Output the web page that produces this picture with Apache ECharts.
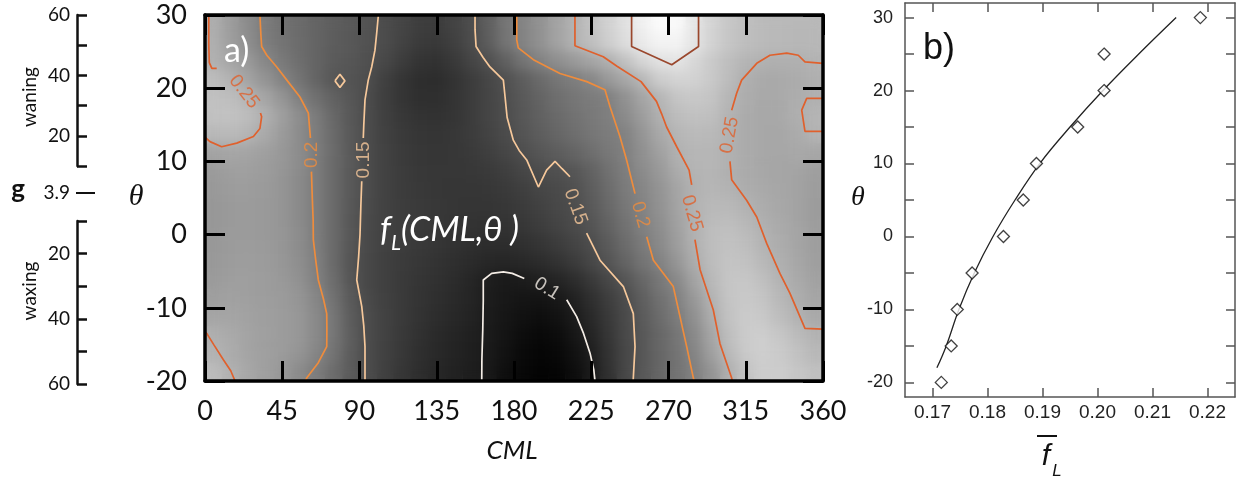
<!DOCTYPE html>
<html>
<head>
<meta charset="utf-8">
<title>f_L(CML, theta)</title>
<script src="https://cdn.jsdelivr.net/npm/echarts@6.0.0/dist/echarts.min.js"></script>
<style>
html, body { margin: 0; padding: 0; background: #fff; }
#wrap { position: relative; width: 1242px; height: 480px; }
.layer { position: absolute; left: 0; top: 0; width: 1242px; height: 480px; }
#soft { position: absolute; left: 205px; top: 15px; width: 618px; height: 366px; overflow: hidden; }
#softInner { position: absolute; left: -205px; top: -15px; width: 1242px; height: 480px; filter: blur(6px); }
</style>
</head>
<body>
<div id="wrap">
  <div id="base" class="layer"></div>
  <div id="soft"><div id="softInner"></div></div>
  <div id="main" class="layer"></div>
</div>
<script>
// ---- panel a) : field f_L on a 10 deg x 2.5 deg grid (rows bottom -> top) ----
var cmlCenters = [5, 15, 25, 35, 45, 55, 65, 75, 85, 95, 105, 115, 125, 135, 145, 155, 165, 175,
  185, 195, 205, 215, 225, 235, 245, 255, 265, 275, 285, 295, 305, 315, 325, 335, 345, 355];
var thetaCenters = [-18.75, -16.25, -13.75, -11.25, -8.75, -6.25, -3.75, -1.25, 1.25, 3.75,
  6.25, 8.75, 11.25, 13.75, 16.25, 18.75, 21.25, 23.75, 26.25, 28.75];
var fieldRows = [
  [0.262,0.25,0.24,0.232,0.225,0.212,0.197,0.18,0.163,0.148,0.135,0.125,0.117,0.11,0.105,0.101,0.095,0.085,0.078,0.074,0.075,0.083,0.098,0.12,0.142,0.16,0.174,0.187,0.201,0.22,0.248,0.268,0.278,0.278,0.272,0.266],
  [0.252,0.245,0.237,0.232,0.228,0.221,0.206,0.187,0.164,0.148,0.136,0.127,0.118,0.112,0.107,0.102,0.097,0.088,0.08,0.076,0.078,0.087,0.101,0.122,0.142,0.159,0.174,0.188,0.205,0.232,0.258,0.275,0.28,0.276,0.268,0.258],
  [0.248,0.243,0.236,0.232,0.229,0.224,0.21,0.19,0.166,0.148,0.137,0.128,0.12,0.113,0.108,0.103,0.098,0.09,0.083,0.079,0.082,0.092,0.107,0.125,0.144,0.16,0.175,0.19,0.21,0.238,0.264,0.277,0.279,0.272,0.262,0.252],
  [0.238,0.238,0.234,0.231,0.229,0.224,0.21,0.19,0.165,0.147,0.137,0.129,0.122,0.116,0.111,0.106,0.099,0.092,0.087,0.084,0.088,0.098,0.112,0.128,0.145,0.163,0.18,0.196,0.217,0.245,0.268,0.277,0.274,0.263,0.252,0.242],
  [0.232,0.234,0.232,0.23,0.228,0.222,0.207,0.186,0.162,0.145,0.136,0.129,0.123,0.118,0.113,0.108,0.1,0.094,0.091,0.09,0.094,0.104,0.118,0.133,0.148,0.167,0.185,0.201,0.225,0.251,0.27,0.275,0.27,0.258,0.247,0.238],
  [0.228,0.231,0.231,0.229,0.226,0.218,0.202,0.181,0.158,0.143,0.135,0.129,0.124,0.12,0.115,0.109,0.101,0.097,0.099,0.102,0.107,0.115,0.128,0.142,0.157,0.175,0.192,0.209,0.236,0.258,0.271,0.273,0.265,0.253,0.243,0.235],
  [0.226,0.229,0.23,0.228,0.224,0.215,0.2,0.178,0.157,0.143,0.135,0.13,0.126,0.122,0.118,0.114,0.11,0.109,0.111,0.115,0.121,0.13,0.142,0.156,0.172,0.188,0.202,0.222,0.245,0.262,0.27,0.268,0.258,0.248,0.24,0.232],
  [0.225,0.228,0.229,0.227,0.223,0.213,0.198,0.178,0.158,0.144,0.136,0.131,0.128,0.125,0.121,0.118,0.116,0.116,0.119,0.124,0.131,0.139,0.149,0.163,0.18,0.195,0.21,0.23,0.249,0.263,0.268,0.264,0.253,0.245,0.238,0.231],
  [0.224,0.227,0.228,0.226,0.222,0.212,0.197,0.178,0.159,0.145,0.137,0.132,0.129,0.127,0.124,0.122,0.121,0.122,0.126,0.132,0.139,0.146,0.156,0.17,0.186,0.2,0.214,0.233,0.25,0.262,0.265,0.259,0.249,0.243,0.237,0.23],
  [0.224,0.227,0.228,0.226,0.222,0.211,0.196,0.178,0.16,0.146,0.137,0.132,0.129,0.127,0.125,0.124,0.124,0.126,0.13,0.136,0.143,0.149,0.161,0.176,0.191,0.204,0.218,0.236,0.251,0.259,0.259,0.252,0.245,0.24,0.236,0.229],
  [0.226,0.229,0.229,0.227,0.222,0.211,0.196,0.178,0.161,0.147,0.137,0.131,0.128,0.126,0.125,0.125,0.126,0.129,0.134,0.141,0.145,0.152,0.165,0.18,0.195,0.207,0.22,0.237,0.251,0.256,0.253,0.246,0.242,0.239,0.236,0.23],
  [0.228,0.232,0.232,0.229,0.223,0.212,0.196,0.178,0.161,0.147,0.137,0.131,0.127,0.126,0.126,0.127,0.129,0.134,0.141,0.149,0.152,0.158,0.17,0.185,0.198,0.212,0.226,0.244,0.254,0.255,0.249,0.244,0.24,0.238,0.237,0.232],
  [0.236,0.239,0.237,0.232,0.225,0.213,0.197,0.179,0.161,0.147,0.137,0.13,0.126,0.125,0.126,0.129,0.134,0.141,0.15,0.158,0.165,0.172,0.182,0.192,0.2,0.217,0.233,0.249,0.256,0.256,0.25,0.244,0.24,0.239,0.241,0.24],
  [0.258,0.26,0.254,0.242,0.228,0.213,0.196,0.178,0.161,0.147,0.136,0.129,0.125,0.124,0.126,0.131,0.138,0.146,0.156,0.165,0.174,0.182,0.19,0.196,0.203,0.222,0.241,0.255,0.26,0.259,0.251,0.244,0.24,0.239,0.244,0.252],
  [0.267,0.268,0.262,0.249,0.232,0.214,0.195,0.176,0.16,0.147,0.135,0.127,0.122,0.121,0.124,0.131,0.14,0.149,0.159,0.169,0.178,0.186,0.193,0.199,0.212,0.23,0.249,0.262,0.267,0.265,0.252,0.244,0.24,0.241,0.248,0.254],
  [0.266,0.264,0.252,0.238,0.222,0.201,0.184,0.17,0.158,0.148,0.134,0.124,0.118,0.118,0.123,0.131,0.14,0.15,0.161,0.172,0.182,0.19,0.196,0.201,0.218,0.238,0.255,0.27,0.274,0.27,0.256,0.246,0.241,0.242,0.246,0.249],
  [0.262,0.253,0.236,0.22,0.204,0.188,0.172,0.158,0.156,0.15,0.135,0.124,0.117,0.116,0.122,0.131,0.141,0.152,0.165,0.178,0.19,0.198,0.208,0.226,0.24,0.258,0.278,0.285,0.284,0.275,0.262,0.248,0.242,0.242,0.245,0.248],
  [0.25,0.238,0.226,0.208,0.194,0.182,0.172,0.163,0.158,0.152,0.143,0.132,0.123,0.121,0.128,0.14,0.152,0.168,0.188,0.203,0.215,0.226,0.238,0.249,0.268,0.288,0.299,0.302,0.29,0.276,0.264,0.255,0.25,0.248,0.249,0.253],
  [0.248,0.232,0.215,0.198,0.188,0.18,0.172,0.165,0.16,0.154,0.147,0.138,0.13,0.128,0.135,0.147,0.165,0.188,0.204,0.218,0.235,0.25,0.265,0.28,0.295,0.31,0.318,0.318,0.303,0.285,0.272,0.264,0.26,0.258,0.257,0.257],
  [0.247,0.23,0.212,0.196,0.186,0.179,0.172,0.166,0.161,0.155,0.148,0.14,0.133,0.131,0.138,0.149,0.167,0.189,0.205,0.219,0.236,0.251,0.267,0.283,0.298,0.315,0.325,0.324,0.305,0.286,0.273,0.265,0.261,0.259,0.258,0.258]
];

// contour lines, [CML, theta] pairs, split where a label sits
var c25BottomLeft = [[0,-13.2],[1,-13.5],[5,-15],[10.7,-17.1],[15,-18.6],[17.5,-20]];
var c25TopLeftA = [[2.2,30],[2.2,26],[2.5,23.5],[4,22.7],[6.8,22.7]];
var c25TopLeftB = [[32.3,16.6],[33,16.1],[32,14.5],[28.2,13.4],[18.5,12.5],[9.7,12.0],[2.9,12.7],[0,13.3]];
var c20LeftA = [[32,30],[32.5,27.5],[33,25.7],[36,24.5],[41.8,22.9],[48,21],[55.3,18.8],[60.2,16.6],[61.2,13.8],[61.4,13.2]];
var c20LeftB = [[62,8.6],[62.5,5],[63,2],[63.1,-0.7],[64.5,-3.5],[66,-6.2],[69,-8.8],[70.9,-10.8],[71,-13],[70.9,-15.3],[66,-17.5],[59.2,-19.6],[58.5,-20]];
var c15LeftA = [[101,30],[100,27.5],[99,25.2],[97.1,22.9],[95.1,21.1],[93.2,18.4],[92.5,15],[92.2,13.2]];
var c15LeftB = [[91.3,7.3],[90.8,4],[90.3,0],[89.5,-3],[88.4,-6.2],[91.3,-9.8],[92.5,-12.5],[93.2,-15.3],[93.2,-20]];
var c15Spot = [[75.7,21.0],[78.6,21.9],[81.5,21.0],[78.6,20.1],[75.7,21.0]];
var c10A = [[161.2,-20],[161.3,-17],[161.8,-13],[162.1,-9],[162.1,-6.2],[167,-5.3],[173.8,-5.1],[179,-5.3],[186,-6.0]];
var c10B = [[210.7,-8.9],[216.5,-11.2],[220.5,-13.5],[224.3,-16.2],[226.5,-18.5],[227.2,-20]];
var c15RightA = [[157.3,30],[157.3,28],[157.9,25.7],[162,24.2],[166,22.9],[170,22],[173.8,21.1],[174.8,18.8],[176,16],[179.6,12.9],[183,11.5],[187.4,10.2],[194.2,6.5],[199,8.8],[203.9,10],[208,9],[212.6,7.9]];
var c15RightB = [[222.3,0.2],[230.1,-3.5],[243.7,-7.1],[249.5,-10.8],[250.5,-15.3],[249.5,-19.6],[249.4,-20]];
var c20RightA = [[181.6,30],[181.6,26.6],[182.5,25.5],[191.3,23.9],[206.8,22.0],[222.4,20.9],[233,19.8],[235.9,17.5],[241.7,13.4],[245.6,10.2],[250.5,5.6]];
var c20RightB = [[257.3,-0.3],[261.2,-3.5],[272.8,-7.1],[280.6,-15.3],[284.5,-19.6],[285,-20]];
var c25MidA = [[215.5,30],[215.5,25.8],[232,24.3],[240,23],[254,20.9],[263,18.2],[266,16.5],[268.9,14.7],[274.8,12],[282,8.8],[283.5,6.8]];
var c25MidB = [[285.4,-0.7],[288.4,-4.8],[296.1,-10.3],[300,-14.9],[306.8,-19.6],[307.2,-20]];
var c30Top = [[248.5,30],[248.5,25.7],[271.9,23.2],[287.5,25.7],[287.5,30]];
var c25RightA = [[360,23.4],[349.5,23.6],[345.6,24.5],[338.9,24.8],[329.1,24.5],[321.4,23.4],[312.6,21.1],[309.7,19.3],[306.8,17.0]];
var c25RightB = [[305.8,10],[306.8,7.5],[315.5,4.7],[321.4,2.4],[327.2,-1.2],[334.9,-5.3],[340.7,-8.0],[349.5,-12.8],[360,-12.9]];
var c25Edge = [[360,18.6],[350.5,18.6],[347.6,17.0],[349.5,14.1],[360,14.1]];

var contourPieces = [
  [c25BottomLeft, 0.25], [c25TopLeftA, 0.25], [c25TopLeftB, 0.25],
  [c20LeftA, 0.2], [c20LeftB, 0.2], [c15LeftA, 0.15], [c15LeftB, 0.15], [c15Spot, 0.15],
  [c10A, 0.1], [c10B, 0.1], [c15RightA, 0.15], [c15RightB, 0.15],
  [c20RightA, 0.2], [c20RightB, 0.2], [c25MidA, 0.25], [c25MidB, 0.25],
  [c30Top, 0.3], [c25RightA, 0.25], [c25RightB, 0.25], [c25Edge, 0.25]
];

// contour labels: [CML, theta, level]
var contourLabels = [
  [22.7, 19.5, 0.25], [62.1, 10.9, 0.2], [92.2, 10.2, 0.15], [199.2, -7.4, 0.1],
  [215.8, 3.8, 0.15], [253.6, 2.7, 0.2], [283.6, 2.9, 0.25], [305.6, 13.6, 0.25]
];
var labelRotate = [-52, 90, 90, -32, -70, -74, -74, 80];

// ---- panel b) : mean f_L against theta ----
var thetaObs = [-20, -15, -10, -5, 0, 5, 10, 15, 20, 25, 30];
var fbarObs = [0.1716, 0.1734, 0.1745, 0.1772, 0.1829, 0.1865, 0.1889, 0.1964, 0.2012, 0.2012, 0.2187];
var thetaFit = [-18, -15, -10, -5, 0, 5, 10, 15, 20, 25, 30];
var fbarFit = [0.1708, 0.1725, 0.1748, 0.1776, 0.1810, 0.1850, 0.1895, 0.1950, 0.2010, 0.2075, 0.2143];
var fbarTicks = [0.17, 0.18, 0.19, 0.20, 0.21, 0.22];
var thetaTicksB = [-20, -15, -10, -5, 0, 5, 10, 15, 20, 25, 30];
var thetaLabelsB = [-20, -10, 0, 10, 20, 30];

var levelColor = { 0.1: '#f4ede6', 0.15: '#f6c89b', 0.2: '#ee8c3d', 0.25: '#e0602c', 0.3: '#9a472d' };

var heatData = [];
fieldRows.forEach(function(row, j) {
  row.forEach(function(v, i) { heatData.push([i, j, v]); });
});

// grey map, drawn twice: plain underneath, softened copy on top of it
function heatOption(bg) {
  return {
    backgroundColor: bg,
    animation: false,
    grid: { left: 205, top: 15, width: 618, height: 366 },
    xAxis: { type: 'category', data: cmlCenters, show: false },
    yAxis: { type: 'category', data: thetaCenters, show: false },
    visualMap: {
      show: false, type: 'continuous', dimension: 2,
      min: 0.07, max: 0.33,
      inRange: { color: ['#000000', '#ffffff'] },
      outOfRange: { color: ['#000000', '#ffffff'] }
    },
    series: [{ type: 'heatmap', data: heatData, silent: true }]
  };
}
echarts.init(document.getElementById('base')).setOption(heatOption('#ffffff'));
echarts.init(document.getElementById('softInner')).setOption(heatOption('rgba(0,0,0,0)'));

var series = [];
contourPieces.forEach(function(piece) {
  series.push({
    type: 'line',
    xAxisIndex: 2,
    yAxisIndex: 2,
    data: piece[0],
    symbol: 'none',
    silent: true,
    z: 4,
    lineStyle: { color: levelColor[piece[1]], width: 1.7 }
  });
});

series.push({
  type: 'scatter',
  xAxisIndex: 2,
  yAxisIndex: 2,
  symbolSize: 0,
  silent: true,
  z: 5,
  data: contourLabels.map(function(p, i) {
    return {
      value: [p[0], p[1]],
      label: {
        show: true,
        position: 'inside',
        formatter: String(p[2]),
        rotate: labelRotate[i],
        color: levelColor[p[2]],
        fontSize: 19,
        fontFamily: 'Liberation Sans'
      }
    };
  })
});

series.push({
  type: 'line',
  xAxisIndex: 4,
  yAxisIndex: 4,
  data: fbarFit.map(function(x, i) { return [x, thetaFit[i]]; }),
  smooth: 0.4,
  symbol: 'none',
  silent: true,
  lineStyle: { color: '#222', width: 1.3 }
});
series.push({
  type: 'scatter',
  xAxisIndex: 4,
  yAxisIndex: 4,
  data: fbarObs.map(function(x, i) { return [x, thetaObs[i]]; }),
  symbol: 'diamond',
  symbolSize: 12,
  silent: true,
  z: 6,
  itemStyle: { color: '#fff', borderColor: '#111', borderWidth: 1.3 }
});

var mainFont = 'Lato';
var sideAxis = function(grid, inverse) {
  return {
    gridIndex: grid, type: 'value', min: 10, max: 60, interval: 10, inverse: inverse,
    axisLine: { show: true, onZero: false, lineStyle: { color: '#111', width: 2.5 } },
    axisTick: { show: true, inside: true, length: 10, lineStyle: { color: '#111', width: 2.5 } },
    axisLabel: {
      margin: 7, fontSize: 19, fontFamily: mainFont, color: '#111',
      formatter: function(v) { return v % 20 === 0 ? String(v) : ''; }
    },
    splitLine: { show: false }
  };
};
var frameA = { show: true, onZero: false, lineStyle: { color: '#000', width: 3.5 } };
var tickA = { show: true, inside: true, length: 20, lineStyle: { color: '#000', width: 3 } };
var labelA = { fontSize: 27, fontFamily: mainFont, color: '#111' };
var frameB = { show: true, onZero: false, lineStyle: { color: '#555', width: 1.5 } };
var tickB = { show: true, inside: true, length: 9, lineStyle: { color: '#555', width: 1.5 } };

var option = {
  backgroundColor: 'rgba(0,0,0,0)',
  animation: false,
  grid: [
    { left: 77, top: 15, width: 20, height: 151 },
    { left: 77, top: 221, width: 20, height: 163 },
    { left: 205, top: 15, width: 618, height: 366 },
    { left: 905, top: 3, width: 330, height: 394 }
  ],
  xAxis: [
    { gridIndex: 0, type: 'value', show: false },
    { gridIndex: 1, type: 'value', show: false },
    { gridIndex: 2, type: 'value', min: 0, max: 360, interval: 45, position: 'bottom', z: 10,
      axisLine: frameA, axisTick: tickA, axisLabel: Object.assign({ margin: 17 }, labelA), splitLine: { show: false } },
    { gridIndex: 2, type: 'value', min: 0, max: 360, interval: 45, position: 'top', z: 10,
      axisLine: frameA, axisTick: tickA, axisLabel: { show: false }, splitLine: { show: false } },
    { gridIndex: 3, type: 'value', min: 0.165, max: 0.225, position: 'bottom',
      axisLine: frameB,
      axisTick: Object.assign({ customValues: fbarTicks }, tickB),
      axisLabel: { customValues: fbarTicks, margin: 6, fontSize: 19, fontFamily: 'Liberation Sans', color: '#222',
        formatter: function(v) { return v.toFixed(2); } },
      splitLine: { show: false } },
    { gridIndex: 3, type: 'value', min: 0.165, max: 0.225, position: 'top',
      axisLine: frameB,
      axisTick: Object.assign({ customValues: fbarTicks }, tickB),
      axisLabel: { show: false }, splitLine: { show: false } }
  ],
  yAxis: [
    sideAxis(0, false),
    sideAxis(1, true),
    { gridIndex: 2, type: 'value', min: -20, max: 30, interval: 10, position: 'left', z: 10,
      axisLine: frameA, axisTick: tickA, axisLabel: Object.assign({ margin: 18 }, labelA), splitLine: { show: false } },
    { gridIndex: 2, type: 'value', min: -20, max: 30, interval: 10, position: 'right', z: 10,
      axisLine: frameA, axisTick: tickA, axisLabel: { show: false }, splitLine: { show: false } },
    { gridIndex: 3, type: 'value', min: -22, max: 32, position: 'left',
      axisLine: frameB,
      axisTick: Object.assign({ customValues: thetaTicksB }, tickB),
      axisLabel: { customValues: thetaLabelsB, margin: 12, fontSize: 18, fontFamily: 'Liberation Sans', color: '#222' },
      splitLine: { show: false } },
    { gridIndex: 3, type: 'value', min: -22, max: 32, position: 'right',
      axisLine: frameB,
      axisTick: Object.assign({ customValues: thetaTicksB }, tickB),
      axisLabel: { show: false }, splitLine: { show: false } }
  ],
  graphic: [
    { type: 'text', x: 30, y: 97, rotation: Math.PI / 2,
      style: { text: 'waning', font: '19px Lato', fill: '#111', align: 'center', verticalAlign: 'middle' } },
    { type: 'text', x: 30, y: 291, rotation: Math.PI / 2,
      style: { text: 'waxing', font: '19px Lato', fill: '#111', align: 'center', verticalAlign: 'middle' } },
    { type: 'text', x: 18, y: 190,
      style: { text: 'g', font: 'bold 26px Lato', fill: '#111', align: 'center', verticalAlign: 'middle' } },
    { type: 'text', x: 70, y: 193,
      style: { text: '3.9', font: '19px Lato', fill: '#111', align: 'right', verticalAlign: 'middle' } },
    { type: 'line', shape: { x1: 76, y1: 193, x2: 95, y2: 193 }, style: { stroke: '#111', lineWidth: 2 } },
    { type: 'text', x: 136, y: 197,
      style: { text: 'θ', font: 'italic 30px "Liberation Serif"', fill: '#111', align: 'center', verticalAlign: 'middle' } },
    { type: 'text', x: 512, y: 451,
      style: { text: 'CML', font: 'italic 26px Lato', fill: '#111', align: 'center', verticalAlign: 'middle' } },
    { type: 'text', x: 224, y: 51, z: 20,
      style: { text: 'a)', font: '34px Lato', fill: '#fff', align: 'left', verticalAlign: 'middle' } },
    { type: 'text', x: 380, y: 230, z: 20,
      style: {
        text: '{m|f}{s|L}{m|(CML,θ )}',
        align: 'left', verticalAlign: 'middle',
        rich: {
          m: { font: 'italic 34px Lato', fill: '#fff', lineHeight: 48, verticalAlign: 'middle' },
          s: { font: 'italic 21px Lato', fill: '#fff', lineHeight: 48, verticalAlign: 'bottom' }
        }
      } },
    { type: 'text', x: 923, y: 49, z: 20,
      style: { text: 'b)', font: '36px "Liberation Sans"', fill: '#111', align: 'left', verticalAlign: 'middle' } },
    { type: 'text', x: 858, y: 198,
      style: { text: 'θ', font: 'italic 28px "Liberation Serif"', fill: '#111', align: 'center', verticalAlign: 'middle' } },
    { type: 'text', x: 1046, y: 457,
      style: { text: 'f', font: 'italic 30px "Liberation Sans"', fill: '#111', align: 'center', verticalAlign: 'middle' } },
    { type: 'text', x: 1057, y: 471,
      style: { text: 'L', font: 'italic 17px "Liberation Sans"', fill: '#111', align: 'center', verticalAlign: 'middle' } },
    { type: 'line', shape: { x1: 1037, y1: 436, x2: 1057, y2: 436 }, style: { stroke: '#111', lineWidth: 2 } }
  ],
  series: series
};

echarts.init(document.getElementById('main')).setOption(option);
</script>
</body>
</html>
